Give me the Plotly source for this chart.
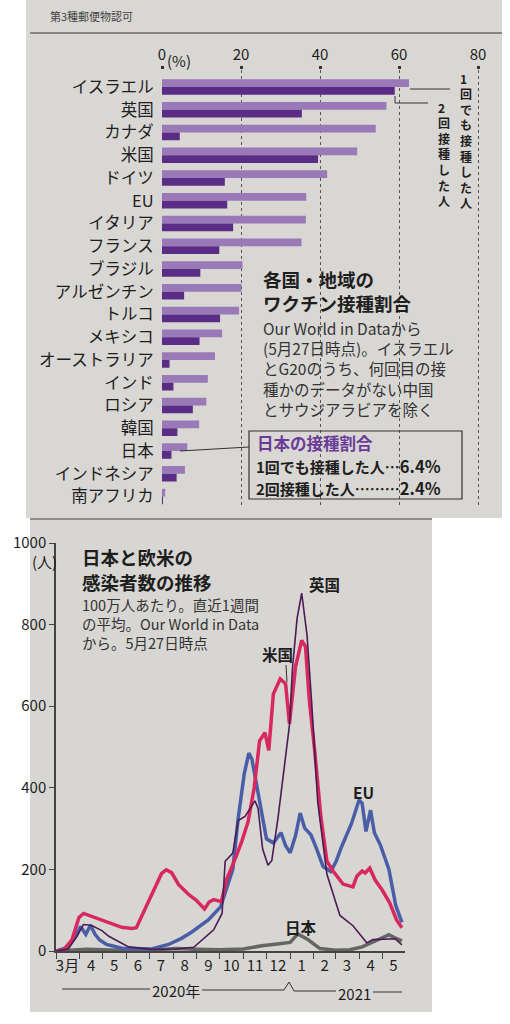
import plotly.graph_objects as go

# ---- vaccination shares (%), as of 27 May 2021 ----
countries = ["イスラエル", "英国", "カナダ", "米国", "ドイツ", "EU", "イタリア", "フランス",
             "ブラジル", "アルゼンチン", "トルコ", "メキシコ", "オーストラリア", "インド",
             "ロシア", "韓国", "日本", "インドネシア", "南アフリカ"]
first_dose = [62.5, 56.8, 54.1, 49.4, 41.8, 36.5, 36.4, 35.3, 20.4, 20.1, 19.5, 15.2,
              13.4, 11.6, 11.2, 9.4, 6.4, 5.8, 0.8]
second_dose = [58.9, 35.4, 4.5, 39.5, 15.9, 16.5, 18.0, 14.5, 9.7, 5.6, 14.7, 9.5,
               1.9, 2.9, 7.8, 3.9, 2.4, 3.7, 0.2]
pct_ticks = [0, 20, 40, 60, 80]

# ---- new cases per million, 7-day average ----
uk_dates = ["2020-03-01", "2020-03-17", "2020-03-28", "2020-04-06", "2020-04-16", "2020-04-30",
            "2020-05-09", "2020-05-22", "2020-06-04", "2020-07-04", "2020-08-05", "2020-08-28",
            "2020-09-23", "2020-10-04", "2020-10-08", "2020-10-18", "2020-10-25", "2020-11-03",
            "2020-11-16", "2020-11-20", "2020-11-26", "2020-12-03", "2020-12-08", "2020-12-16",
            "2020-12-25", "2020-12-31", "2021-01-04", "2021-01-10", "2021-01-16", "2021-01-23",
            "2021-01-29", "2021-02-01", "2021-02-06", "2021-02-18", "2021-02-26", "2021-03-07",
            "2021-03-24", "2021-04-06", "2021-04-11", "2021-04-19", "2021-05-05", "2021-05-18",
            "2021-05-27"]
uk_cases = [0, 5, 35, 65, 63, 50, 36, 22, 10, 4, 5, 9, 52, 92, 220, 240, 320, 330, 368, 350,
            250, 210, 222, 325, 455, 553, 693, 815, 877, 774, 610, 512, 365, 188, 140, 87,
            62, 32, 20, 28, 30, 30, 15]

us_dates = ["2020-03-01", "2020-03-11", "2020-03-22", "2020-03-31", "2020-04-06", "2020-04-16",
            "2020-04-30", "2020-05-13", "2020-05-26", "2020-06-08", "2020-06-14", "2020-06-30",
            "2020-07-17", "2020-07-23", "2020-07-30", "2020-08-08", "2020-08-21", "2020-08-31",
            "2020-09-11", "2020-09-17", "2020-09-23", "2020-10-03", "2020-10-10", "2020-10-22",
            "2020-10-30", "2020-11-07", "2020-11-15", "2020-11-22", "2020-11-29", "2020-12-04",
            "2020-12-10", "2020-12-19", "2020-12-26", "2020-12-31", "2021-01-08", "2021-01-16",
            "2021-01-21", "2021-01-26", "2021-02-02", "2021-02-10", "2021-02-18", "2021-02-26",
            "2021-03-11", "2021-03-24", "2021-03-29", "2021-04-05", "2021-04-09", "2021-04-15",
            "2021-04-22", "2021-05-01", "2021-05-11", "2021-05-20", "2021-05-27"]
us_cases = [0, 3, 28, 82, 92, 85, 76, 67, 58, 55, 57, 122, 190, 199, 192, 163, 139, 125, 103,
            120, 126, 121, 176, 230, 270, 317, 400, 515, 535, 492, 630, 667, 655, 557, 697,
            761, 746, 614, 491, 330, 220, 196, 164, 157, 183, 196, 191, 203, 174, 150, 118,
            76, 57]

eu_dates = ["2020-03-01", "2020-03-15", "2020-03-28", "2020-04-02", "2020-04-09", "2020-04-15",
            "2020-04-21", "2020-04-27", "2020-05-06", "2020-05-26", "2020-07-04", "2020-07-26",
            "2020-08-12", "2020-08-25", "2020-09-16", "2020-10-02", "2020-10-18", "2020-10-25",
            "2020-11-02", "2020-11-08", "2020-11-12", "2020-11-17", "2020-11-23", "2020-12-01",
            "2020-12-10", "2020-12-20", "2020-12-26", "2021-01-01", "2021-01-08", "2021-01-14",
            "2021-01-20", "2021-01-28", "2021-02-04", "2021-02-13", "2021-02-23", "2021-03-02",
            "2021-03-09", "2021-03-22", "2021-04-01", "2021-04-05", "2021-04-10", "2021-04-16",
            "2021-04-21", "2021-04-29", "2021-05-10", "2021-05-19", "2021-05-27"]
eu_cases = [0, 8, 40, 60, 41, 63, 41, 27, 16, 7, 5, 16, 31, 46, 76, 108, 200, 324, 435, 485,
            470, 421, 363, 275, 265, 290, 258, 241, 283, 338, 301, 285, 253, 207, 195, 220,
            255, 312, 370, 362, 293, 345, 290, 259, 200, 111, 70]

jp_dates = ["2020-03-01", "2020-04-10", "2020-05-01", "2020-06-01", "2020-07-01", "2020-08-05",
            "2020-09-01", "2020-10-01", "2020-11-01", "2020-11-25", "2020-12-15", "2021-01-01",
            "2021-01-11", "2021-01-24", "2021-02-09", "2021-03-01", "2021-03-20", "2021-04-05",
            "2021-04-25", "2021-05-10", "2021-05-17", "2021-05-27"]
jp_cases = [0, 4, 3, 1, 2, 6, 4, 3, 5, 13, 17, 21, 42, 28, 6, 2, 3, 10, 27, 40, 33, 25]

month_mids = ["2020-03-16", "2020-04-16", "2020-05-16", "2020-06-16", "2020-07-16",
              "2020-08-16", "2020-09-16", "2020-10-16", "2020-11-16", "2020-12-16",
              "2021-01-16", "2021-02-15", "2021-03-16", "2021-04-16", "2021-05-16"]
month_labels = ["3月", "4", "5", "6", "7", "8", "9", "10", "11", "12", "1", "2", "3", "4", "5"]
case_ticks = [0, 200, 400, 600, 800, 1000]

JP = "Noto Sans CJK JP"
W, H = 510, 1024
PAPER = "#d9d7d3"
INK = "#1e1e1e"


def px(x):
    return x / W


def py(y):
    return 1 - y / H


fig = go.Figure()

# vaccination bars (lighter = at least one dose, darker = two doses)
fig.add_trace(go.Bar(y=countries, x=first_dose, orientation="h", marker_color="#9a79b8",
                     marker_line_width=0, xaxis="x", yaxis="y", showlegend=False))
fig.add_trace(go.Bar(y=countries, x=second_dose, orientation="h", marker_color="#5b2c86",
                     marker_line_width=0, xaxis="x", yaxis="y", showlegend=False))

# case lines
fig.add_trace(go.Scatter(x=jp_dates, y=jp_cases, mode="lines", xaxis="x2", yaxis="y2",
                         line=dict(color="#656565", width=3.5), showlegend=False))
fig.add_trace(go.Scatter(x=eu_dates, y=eu_cases, mode="lines", xaxis="x2", yaxis="y2",
                         line=dict(color="#4a5ea8", width=3.5), showlegend=False))
fig.add_trace(go.Scatter(x=us_dates, y=us_cases, mode="lines", xaxis="x2", yaxis="y2",
                         line=dict(color="#d8285e", width=3.5), showlegend=False))
fig.add_trace(go.Scatter(x=uk_dates, y=uk_cases, mode="lines", xaxis="x2", yaxis="y2",
                         line=dict(color="#4a1b55", width=1.6), showlegend=False))

fig.update_layout(
    width=W, height=H,
    margin=dict(l=0, r=0, t=0, b=0, autoexpand=False),
    paper_bgcolor="white",
    plot_bgcolor="rgba(0,0,0,0)",
    font=dict(family=JP, color=INK),
    barmode="group", bargap=0.32, bargroupgap=0,
    xaxis=dict(domain=[px(162), px(486)], range=[0, 82], anchor="y", side="top",
               automargin=False,
               tickmode="array", tickvals=pct_ticks, ticktext=[str(v) for v in pct_ticks],
               ticks="outside", ticklen=3, tickwidth=3, tickcolor="#333",
               tickfont=dict(size=15, color=INK), showgrid=True, gridcolor="#555",
               griddash="dot", gridwidth=1, zeroline=False, showline=False, fixedrange=True),
    yaxis=dict(domain=[py(507), py(70)], range=[18.46, -0.747], anchor="x",
               automargin=False,
               type="category", ticks="outside", ticklen=4, tickcolor="rgba(0,0,0,0)",
               tickfont=dict(size=16.5, color=INK), showgrid=False, zeroline=False,
               showline=False, fixedrange=True),
    xaxis2=dict(domain=[px(56), px(405)], range=["2020-03-01", "2021-05-31"], anchor="y2",
                automargin=False,
                type="date", tickmode="array", tickvals=month_mids, ticktext=month_labels,
                ticks="", tickfont=dict(size=15, color=INK), showgrid=False, zeroline=False,
                showline=True, linecolor="#444", linewidth=1.5,
                minor=dict(ticks="outside", ticklen=6, tickwidth=1, tickcolor="#444",
                           tickmode="linear", tick0="2020-03-01", dtick="M1", showgrid=False),
                fixedrange=True),
    yaxis2=dict(domain=[py(951), py(543)], range=[0, 1000], anchor="x2",
                automargin=False,
                tickmode="array", tickvals=case_ticks, ticks="outside", ticklen=5,
                tickcolor="#444", tickfont=dict(size=15, color=INK), showgrid=False,
                zeroline=False, showline=True, linecolor="#444", linewidth=1.5,
                fixedrange=True),
)

shapes = [
    # newspaper clippings
    dict(type="rect", xref="paper", yref="paper", x0=px(26), x1=px(502), y0=py(518), y1=py(0),
         fillcolor=PAPER, line_width=0, layer="below"),
    dict(type="rect", xref="paper", yref="paper", x0=px(30), x1=px(432), y0=py(1012), y1=py(518),
         fillcolor="#d8d6d2", line_width=0, layer="below"),
    dict(type="line", xref="paper", yref="paper", x0=px(30), x1=px(502), y0=py(33), y1=py(33),
         line=dict(color="#333", width=1)),
    dict(type="line", xref="paper", yref="paper", x0=px(30), x1=px(432), y0=py(519), y1=py(519),
         line=dict(color="#444", width=1)),
    # japan box + leader
    dict(type="rect", xref="paper", yref="paper", x0=px(249), x1=px(462), y0=py(499), y1=py(431),
         line=dict(color="#333", width=1.2)),
    dict(type="line", xref="paper", yref="paper", x0=px(180), x1=px(249), y0=py(451), y1=py(447),
         line=dict(color="#333", width=1)),
    # legend leaders
    dict(type="line", xref="paper", yref="paper", x0=px(410), x1=px(450), y0=py(89), y1=py(89),
         line=dict(color="#333", width=1)),
    dict(type="path", xref="paper", yref="paper",
         path=f"M {px(395)} {py(96)} L {px(395)} {py(103)} L {px(428)} {py(103)}",
         line=dict(color="#333", width=1)),
    # year brackets under the month axis
    dict(type="line", xref="paper", yref="paper", x0=px(62), x1=px(150), y0=py(989), y1=py(989),
         line=dict(color="#333", width=1)),
    dict(type="path", xref="paper", yref="paper",
         path=(f"M {px(202)} {py(990)} L {px(284)} {py(990)} L {px(289)} {py(982)} "
               f"L {px(294)} {py(991)} L {px(336)} {py(991)}"),
         line=dict(color="#333", width=1)),
    dict(type="line", xref="paper", yref="paper", x0=px(373), x1=px(402), y0=py(992), y1=py(992),
         line=dict(color="#333", width=1)),
    # arrow for 米国
    dict(type="line", xref="paper", yref="paper", x0=px(286), x1=px(287), y0=py(665), y1=py(682),
         line=dict(color="#333", width=1)),
]
fig.update_layout(shapes=shapes)


def note(x, y, text, size, color=INK, xanchor="left"):
    fig.add_annotation(x=px(x), y=py(y), xref="paper", yref="paper", text=text,
                       showarrow=False, xanchor=xanchor, yanchor="middle",
                       font=dict(size=size, color=color, family=JP))


note(48, 16, "第3種郵便物認可", 11, "#444")
note(165, 60, "(%)", 15)

# vertical legend labels, one character per line
for i, ch in enumerate("1回でも接種した人"):
    note(458, 78 + i * 15.6, f"<b>{ch}</b>", 12)
for i, ch in enumerate("2回接種した人"):
    note(436, 107 + i * 15.6, f"<b>{ch}</b>", 12)

note(261, 279, "<b>各国・地域の</b>", 18.5)
note(261, 303, "<b>ワクチン接種割合</b>", 18.5)
desc = ["Our World in Dataから", "(5月27日時点)。イスラエル", "とG20のうち、何回目の接",
        "種かのデータがない中国", "とサウジアラビアを除く"]
for i, line in enumerate(desc):
    note(261, 328 + i * 20.2, line, 15.5, "#333")

note(255, 442.5, "<b>日本の接種割合</b>", 16.5, "#6a3c98")
note(254, 466, "<b>1回でも接種した人…<span style='font-size:16.5px'>6.4%</span></b>", 15)
note(254, 488, "<b>2回接種した人………<span style='font-size:16.5px'>2.4%</span></b>", 15)

# cases chart texts
note(80, 557, "<b>日本と欧米の</b>", 18.5)
note(80, 582, "<b>感染者数の推移</b>", 18.5)
for i, line in enumerate(["100万人あたり。直近1週間", "の平均。Our World in Data", "から。5月27日時点"]):
    note(80, 604 + i * 19.3, line, 14.5, "#333")
note(44, 561, "(人)", 15, xanchor="center")

note(307, 584, "<b>英国</b>", 15.5)
note(277, 654, "<b>米国</b>", 15.5, xanchor="center")
note(363, 792, "<b>EU</b>", 15.5, xanchor="center")
note(301, 927, "<b>日本</b>", 15.5, xanchor="center")
note(176, 990, "2020年", 15, xanchor="center")
note(354, 993, "2021", 15, xanchor="center")

# drop the browser's default body margin so the figure sits at the page origin
fig.write_html("out.html", config={"displayModeBar": False},
               post_script="document.body.style.margin='0';")
